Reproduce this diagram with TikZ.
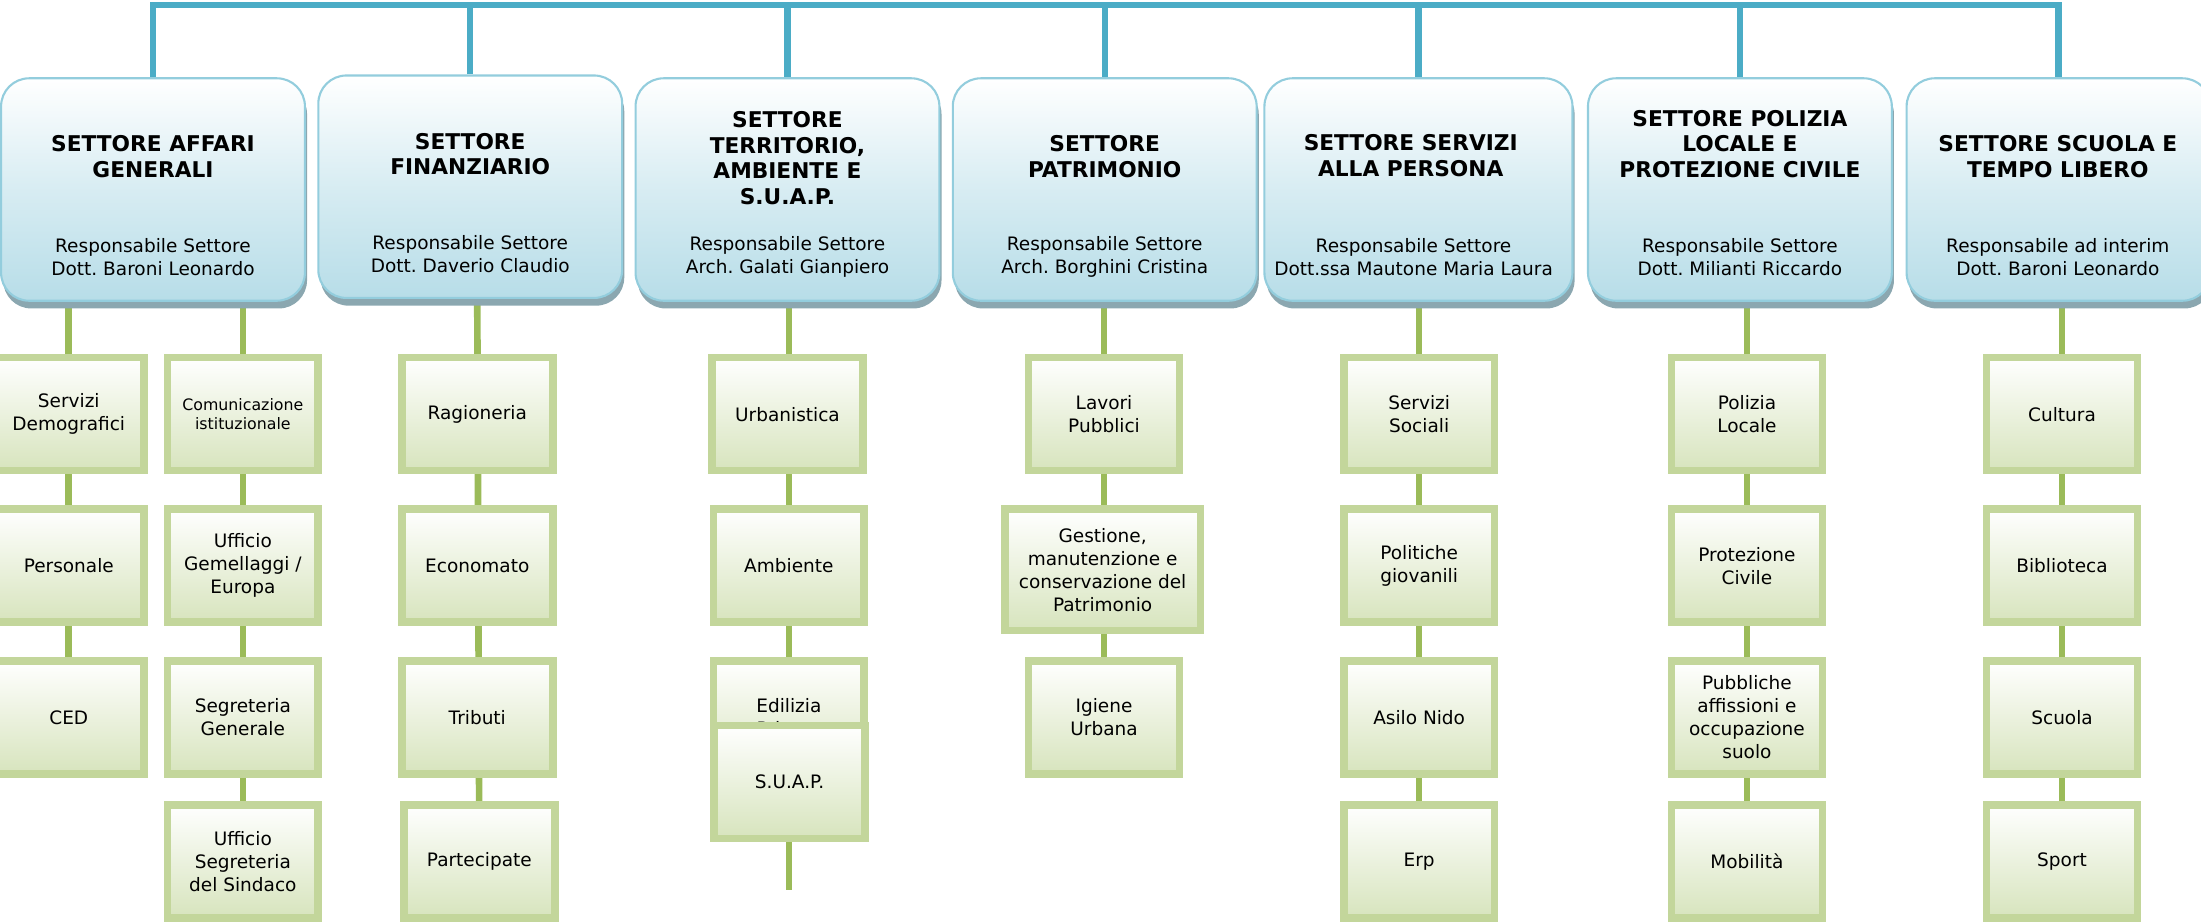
\documentclass[tikz,border=0pt]{standalone}
\usepackage{fontspec}
\setmainfont{DejaVu Sans}
\usetikzlibrary{shadows}
\definecolor{bluecon}{HTML}{4BACC6}
\definecolor{hdrborder}{HTML}{93CDDD}
\definecolor{hdrbot}{HTML}{B7DDE8}
\definecolor{hdrshadow}{HTML}{8BA7B0}
\definecolor{gborder}{HTML}{C3D69B}
\definecolor{gbot}{HTML}{D7E4BD}
\definecolor{greencon}{HTML}{9BBB59}
\pgfdeclarelayer{background}
\pgfsetlayers{background,main}
\tikzset{
  hdr/.style={draw=hdrborder, line width=0.03cm, rounded corners=0.4cm,
    top color=white, bottom color=hdrbot, middle color=hdrbot!55!white,
    minimum width=4.33cm, minimum height=3.17cm, inner sep=0pt,
    general shadow={fill=hdrshadow, shadow xshift=0.03cm, shadow yshift=-0.11cm}},
  ttl/.style={align=center, font=\fontsize{8.8}{10.4}\selectfont\bfseries\frenchspacing, inner sep=0pt},
  sub/.style={align=center, font=\fontsize{7.5}{9.1}\selectfont\frenchspacing, inner sep=0pt},
  gbox/.style={draw=gborder, line width=0.11cm, top color=white, bottom color=gbot,
    minimum width=2.15cm, minimum height=1.61cm, align=center,
    font=\fontsize{7.5}{9.3}\selectfont, inner sep=1pt},
  smalltext/.style={font=\fontsize{6.4}{7.6}\selectfont},
  bcon/.style={draw=bluecon, line width=0.09cm},
  gcon/.style={draw=greencon, line width=0.095cm},
}
\begin{document}
\frenchspacing
\begin{tikzpicture}[x=0.02cm, y=-0.02cm]
\useasboundingbox (0,0) rectangle (1568,657);

% header boxes
\node[hdr] (h1) at (109,135) {};
\node[hdr] (h2) at (335,133) {};
\node[hdr] (h3) at (561,135) {};
\node[hdr] (h4) at (787,135) {};
\node[hdr, minimum width=4.39cm] (h5) at (1010.5,135) {};
\node[hdr] (h6) at (1239.5,135) {};
\node[hdr] (h7) at (1466.5,135) {};

% header titles
\node[ttl] (t1) at (109,111.7) {SETTORE AFFARI\\GENERALI};
\node[ttl] (t2) at (335,109.7) {SETTORE\\FINANZIARIO};
\node[ttl] (t3) at (561,112.5) {SETTORE\\TERRITORIO,\\AMBIENTE E\\S.U.A.P.};
\node[ttl] (t4) at (787,111.7) {SETTORE\\PATRIMONIO};
\node[ttl] (t5) at (1005,111) {SETTORE SERVIZI\\ALLA PERSONA};
\node[ttl] (t6) at (1239.5,102.5) {SETTORE POLIZIA\\LOCALE E\\PROTEZIONE CIVILE};
\node[ttl] (t7) at (1466,111.7) {SETTORE SCUOLA E\\TEMPO LIBERO};

% header subtitles
\node[sub] (s1) at (109,183) {Responsabile Settore\\Dott. Baroni Leonardo};
\node[sub] (s2) at (335,181) {Responsabile Settore\\Dott. Daverio Claudio};
\node[sub] (s3) at (561,183) {Responsabile Settore\\Arch. Galati Gianpiero};
\node[sub] (s4) at (787,183) {Responsabile Settore\\Arch. Borghini Cristina};
\node[sub] (s5) at (1007,183) {Responsabile Settore\\Dott.ssa Mautone Maria Laura};
\node[sub] (s6) at (1239.5,183) {Responsabile Settore\\Dott. Milianti Riccardo};
\node[sub] (s7) at (1466,183) {Responsabile ad interim\\Dott. Baroni Leonardo};

% column A1
\node[gbox] (a11) at (49,295) {Servizi\\Demografici};
\node[gbox] (a12) at (49,403) {Personale};
\node[gbox] (a13) at (49,511) {CED};
% column A2
\node[gbox, smalltext] (a21) at (173,295) {Comunicazione\\istituzionale};
\node[gbox] (a22) at (173,403) {Ufficio\\Gemellaggi /\\Europa};
\node[gbox] (a23) at (173,511) {Segreteria\\Generale};
\node[gbox] (a24) at (173,613.5) {Ufficio\\Segreteria\\del Sindaco};
% column B
\node[gbox] (b1) at (340,295) {Ragioneria};
\node[gbox] (b2) at (340,403) {Economato};
\node[gbox] (b3) at (340,511) {Tributi};
\node[gbox] (b4) at (341.5,613.5) {Partecipate};
% column C
\node[gbox] (c1) at (561,295) {Urbanistica};
\node[gbox] (c2) at (562,403) {Ambiente};
\node[gbox] (c3) at (562,511) {Edilizia\\Privata};
\node[gbox] (c4) at (562.5,557) {S.U.A.P.};
\coordinate (cend) at (562,634);
% column D
\node[gbox] (d1) at (786.5,295) {Lavori\\Pubblici};
\node[gbox, minimum width=2.79cm, minimum height=1.73cm] (d2) at (785.5,406)
  {Gestione,\\manutenzione e\\conservazione del\\Patrimonio};
\node[gbox] (d3) at (786.5,511) {Igiene\\Urbana};
% column E
\node[gbox] (e1) at (1011,295) {Servizi\\Sociali};
\node[gbox] (e2) at (1011,403) {Politiche\\giovanili};
\node[gbox] (e3) at (1011,511) {Asilo Nido};
\node[gbox] (e4) at (1011,613.5) {Erp};
% column F
\node[gbox] (f1) at (1244.5,295) {Polizia\\Locale};
\node[gbox] (f2) at (1244.5,403) {Protezione\\Civile};
\node[gbox] (f3) at (1244.5,511) {Pubbliche\\affissioni e\\occupazione\\suolo};
\node[gbox] (f4) at (1244.5,613.5) {Mobilità};
% column G
\node[gbox] (g1) at (1469,295) {Cultura};
\node[gbox] (g2) at (1469,403) {Biblioteca};
\node[gbox] (g3) at (1469,511) {Scuola};
\node[gbox] (g4) at (1469,613.5) {Sport};

\coordinate (bar) at (0,3.5);

\begin{pgfonlayer}{background}
  % blue connectors
  \draw[bcon] (h1.north) -- (h1.north |- bar) -- (h7.north |- bar) -- (h7.north);
  \foreach \h in {h2,h3,h4,h5,h6} \draw[bcon] (\h.north) -- (\h.north |- bar);
  % green connectors
  \draw[gcon] (h1.south -| a11) -- (a13);
  \draw[gcon] (h1.south -| a21) -- (a24);
  \draw[gcon] (h2.south -| b1) -- (b4);
  \draw[gcon] (h3.south -| cend) -- (cend);
  \draw[gcon] (h4.south -| d1) -- (d3);
  \draw[gcon] (h5.south -| e1) -- (e4);
  \draw[gcon] (h6.south -| f1) -- (f4);
  \draw[gcon] (h7.south -| g1) -- (g4);
\end{pgfonlayer}
\end{tikzpicture}
\end{document}
